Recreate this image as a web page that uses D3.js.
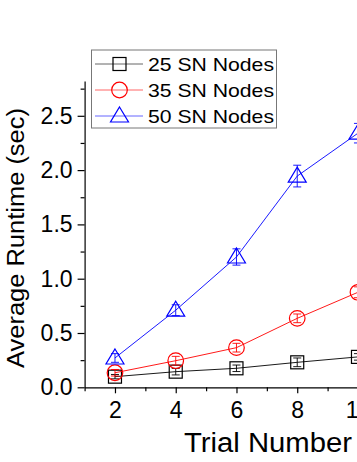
<!DOCTYPE html>
<html>
<head>
<meta charset="utf-8">
<script src="https://cdn.jsdelivr.net/npm/d3@7"></script>
<style>
	body { margin: 0; background: #fff; }
	text { font-family: "Liberation Sans", Arial, sans-serif; fill: #000; }
</style>
</head>
<body>
<div id="graph"></div>
<script>
var width = 357
var height = 462

// data
var trials = [2, 4, 6, 8, 10];
var series = ["25 SN Nodes", "35 SN Nodes", "50 SN Nodes"];
var nodes25 = [0.098, 0.144, 0.175, 0.23, 0.28];
var nodes35 = [0.134, 0.245, 0.365, 0.635, 0.875];
var nodes50 = [0.27, 0.71, 1.2, 1.945, 2.34];
var err25 = [0.02, 0.03, 0.03, 0.04, 0.03];
var err35 = [0.03, 0.04, 0.04, 0.04, 0.05];
var err50 = [0.04, 0.05, 0.075, 0.1, 0.09];
var yTicks = [0, 0.5, 1.0, 1.5, 2.0, 2.5];
var xTicks = [2, 4, 6, 8, 10];

var colors = ["#000000", "#ff0000", "#0000ff"];
var shapes = ["square", "circle", "triangle"];
var values = [nodes25, nodes35, nodes50];
var errors = [err25, err35, err50];

var svg = d3.select("#graph")
	.append("svg")
	.attr("width", width)
	.attr("height", height);

var x = d3.scaleLinear().domain([1, 11]).range([84.6, 388.35]);
var y = d3.scaleLinear().domain([0, 2.82]).range([387.3, 387.3 - 108.6 * 2.82]);

// minor ticks
svg.append("g")
	.attr("transform", "translate(0," + y(0) + ")")
	.call(d3.axisBottom(x).tickValues([1, 3, 5, 7, 9, 11]).tickSize(4).tickFormat(""))
	.call(g => g.select(".domain").remove());
svg.append("g")
	.attr("transform", "translate(" + x(1) + ",0)")
	.call(d3.axisLeft(y).tickValues([0.25, 0.75, 1.25, 1.75, 2.25, 2.75]).tickSize(4).tickFormat(""))
	.call(g => g.select(".domain").remove());

var xAxis = svg.append("g")
	.attr("transform", "translate(0," + y(0) + ")")
	.call(d3.axisBottom(x).tickValues(xTicks).tickSize(6).tickSizeOuter(0).tickPadding(8).tickFormat(d3.format("d")));
xAxis.selectAll("text").style("font-size", "23px").attr("font-family", null);

var yAxis = svg.append("g")
	.attr("transform", "translate(" + x(1) + ",0)")
	.call(d3.axisLeft(y).tickValues(yTicks).tickSize(7).tickSizeOuter(0).tickPadding(5).tickFormat(d3.format(".1f")));
yAxis.selectAll("text").style("font-size", "23px").attr("font-family", null);

svg.selectAll(".domain, .tick line").attr("stroke", "#000").attr("stroke-width", 1.2);

// axis titles
svg.append("text")
	.attr("x", 184)
	.attr("y", 451.5)
	.attr("textLength", 168)
	.attr("lengthAdjust", "spacingAndGlyphs")
	.style("font-size", "27px")
	.text("Trial Number");

svg.append("text")
	.attr("transform", "translate(24,368) rotate(-90)")
	.attr("textLength", 260)
	.attr("lengthAdjust", "spacingAndGlyphs")
	.style("font-size", "23px")
	.text("Average Runtime (sec)");

var line = d3.line()
	.x((d, i) => x(trials[i]))
	.y((d) => y(d));

function marker(sel, shape, color) {
	if (shape === "square") {
		sel.append("rect")
			.attr("x", -6.5).attr("y", -6.5)
			.attr("width", 13).attr("height", 13)
			.attr("fill", "none").attr("stroke", color).attr("stroke-width", 1.2);
	} else if (shape === "circle") {
		sel.append("circle")
			.attr("r", 7.8)
			.attr("fill", "none").attr("stroke", color).attr("stroke-width", 1.2);
	} else {
		sel.append("path")
			.attr("d", "M0,-9L9,6L-9,6Z")
			.attr("fill", "none").attr("stroke", color).attr("stroke-width", 1.2);
	}
}

values.forEach((vals, s) => {
	svg.append("path")
		.datum(vals)
		.attr("fill", "none")
		.attr("stroke", colors[s])
		.attr("stroke-width", 0.9)
		.attr("d", line);

	var pt = svg.append("g")
		.selectAll("g")
		.data(vals)
		.enter()
		.append("g")
		.attr("transform", (d, i) => "translate(" + x(trials[i]) + "," + y(d) + ")");

	// error bars
	pt.append("path")
		.attr("fill", "none")
		.attr("stroke", colors[s])
		.attr("stroke-width", 0.9)
		.attr("d", (d, i) => {
			var e = y(0) - y(errors[s][i]);
			return "M0," + (-e) + "V" + e + "M-4," + (-e) + "H4M-4," + e + "H4";
		});

	pt.call(marker, shapes[s], colors[s]);
});

// legend
var legend = svg.append("g");
legend.append("rect")
	.attr("x", 91.5).attr("y", 50)
	.attr("width", 185).attr("height", 78)
	.attr("fill", "#fff")
	.attr("stroke", "#777")
	.attr("stroke-width", 1);

var legendElem = legend.selectAll("g")
	.data(series)
	.enter()
	.append("g")
	.attr("transform", (d, i) => "translate(0," + (64 + i * 26) + ")");

legendElem.append("line")
	.attr("x1", 95).attr("x2", 143)
	.attr("stroke", (d, i) => colors[i])
	.attr("stroke-opacity", 0.6)
	.attr("stroke-width", 1);

legendElem.append("g")
	.attr("transform", "translate(119.5,0)")
	.each(function (d, i) { marker(d3.select(this), shapes[i], colors[i]); });

legendElem.append("text")
	.attr("x", 148)
	.attr("y", 7)
	.attr("textLength", 126)
	.attr("lengthAdjust", "spacingAndGlyphs")
	.style("font-size", "19px")
	.text((d) => d);
</script>
</body>
</html>
